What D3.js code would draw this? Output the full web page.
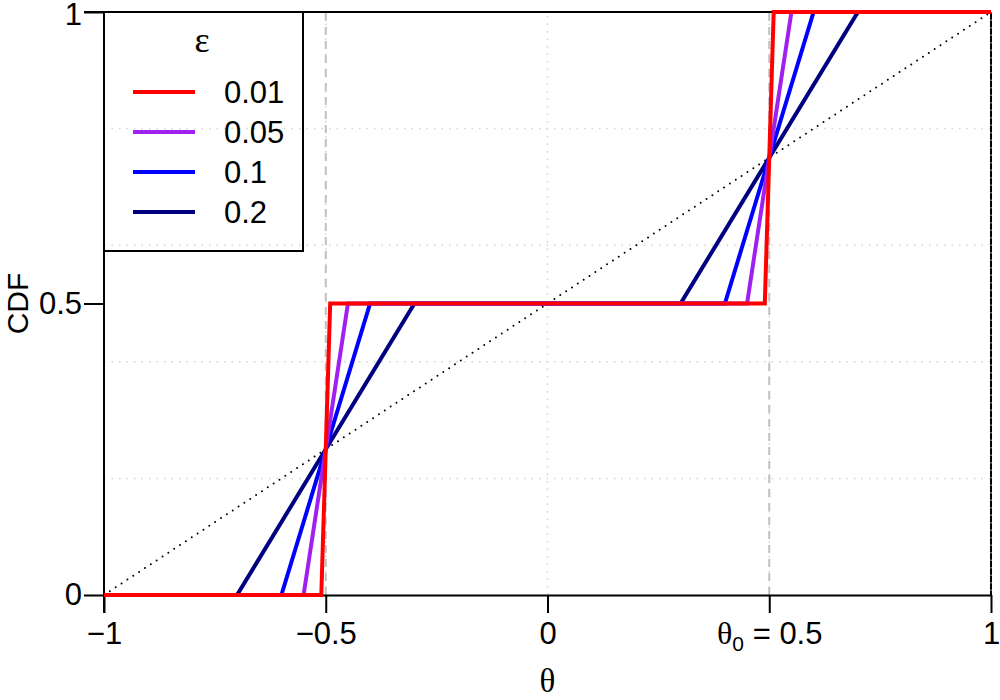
<!DOCTYPE html>
<html>
<head>
<meta charset="utf-8">
<script src="https://cdn.jsdelivr.net/npm/d3@7"></script>
<style>
    body { margin: 0; background: #fff; }
    text { font-family: "Liberation Sans", Arial, sans-serif; }
    .greek { font-family: "Liberation Serif", "DejaVu Serif", serif; }
</style>
</head>
<body>
<div id="chart"></div>
<script>
// series: epsilon values, colours and the breakpoints of each CDF
const epsilons = ["0.01", "0.05", "0.1", "0.2"];
const colors = ["#ff0000", "#a020f0", "#0000ff", "#000080"];
const cdfX = [
    [-1, -0.51, -0.49, 0.49, 0.51, 1],
    [-1, -0.55, -0.45, 0.45, 0.55, 1],
    [-1, -0.6, -0.4, 0.4, 0.6, 1],
    [-1, -0.7, -0.3, 0.3, 0.7, 1]
];
const cdfY = [0, 0, 0.5, 0.5, 1, 1];
const refX = [-1, 1];
const refY = [0, 1];
const xTicks = [-1, -0.5, 0, 0.5, 1];
const xTickLabels = ["\u22121", "\u22120.5", "0", "θ0 = 0.5", "1"];
const yTicks = [0, 0.5, 1];
const yTickLabels = ["0", "0.5", "1"];
const gridY = [0.2, 0.4, 0.6, 0.8, 1];
const gridX = [-0.5, 0, 0.5, 1];
const dashedX = [-0.5, 0.5];

const width = 1000, height = 700;
const margin = {top: 12, right: 9, bottom: 105, left: 104};

const svg = d3.select("#chart").append("svg")
    .attr("width", width)
    .attr("height", height);

const x = d3.scaleLinear().domain([-1, 1]).range([margin.left, width - margin.right]);
const y = d3.scaleLinear().domain([0, 1]).range([height - margin.bottom, margin.top]);

// dotted light grid
svg.append("g").selectAll("line")
    .data(gridY).enter().append("line")
    .attr("x1", x(-1)).attr("x2", x(1))
    .attr("y1", d => y(d)).attr("y2", d => y(d))
    .attr("stroke", "#d3d3d3").attr("stroke-width", 1.5)
    .attr("stroke-dasharray", "1.5,6");
svg.append("g").selectAll("line")
    .data(gridX).enter().append("line")
    .attr("x1", d => x(d)).attr("x2", d => x(d))
    .attr("y1", y(0)).attr("y2", y(1))
    .attr("stroke", "#d3d3d3").attr("stroke-width", 1.5)
    .attr("stroke-dasharray", "1.5,6");

// dashed reference lines at +-0.5
svg.append("g").selectAll("line")
    .data(dashedX).enter().append("line")
    .attr("x1", d => x(d)).attr("x2", d => x(d))
    .attr("y1", y(0)).attr("y2", y(1))
    .attr("stroke", "#c0c0c0").attr("stroke-width", 2)
    .attr("stroke-dasharray", "8,6");

// top and right frame lines
svg.append("line")
    .attr("x1", x(-1) - 20).attr("x2", x(1))
    .attr("y1", y(1)).attr("y2", y(1))
    .attr("stroke", "#000").attr("stroke-width", 2);
svg.append("line")
    .attr("x1", x(1)).attr("x2", x(1))
    .attr("y1", y(1)).attr("y2", y(0))
    .attr("stroke", "#000").attr("stroke-width", 2);
svg.append("line")
    .attr("x1", x(1)).attr("x2", x(1))
    .attr("y1", y(1)).attr("y2", y(0))
    .attr("stroke", "#d3d3d3").attr("stroke-width", 1)
    .attr("stroke-dasharray", "1.5,6");

// uniform reference (dotted diagonal)
const line = d3.line().x(d => x(d[0])).y(d => y(d[1]));
svg.append("path")
    .datum(refX.map((v, i) => [v, refY[i]]))
    .attr("d", line)
    .attr("fill", "none")
    .attr("stroke", "#000")
    .attr("stroke-width", 2)
    .attr("stroke-linecap", "round")
    .attr("stroke-dasharray", "0,7");

// axes
const xAxis = svg.append("g")
    .attr("transform", `translate(0, ${y(0)})`)
    .call(d3.axisBottom(x).tickValues(xTicks).tickSize(18).tickSizeOuter(0).tickPadding(9)
        .tickFormat((d, i) => xTickLabels[i]));
const yAxis = svg.append("g")
    .attr("transform", `translate(${x(-1)}, 0)`)
    .call(d3.axisLeft(y).tickValues(yTicks).tickSize(20).tickSizeOuter(0).tickPadding(2)
        .tickFormat((d, i) => yTickLabels[i]));

[xAxis, yAxis].forEach(g => {
    g.select(".domain").attr("stroke", "#000").attr("stroke-width", 2);
    g.selectAll(".tick line").attr("stroke", "#000").attr("stroke-width", 2);
    g.selectAll(".tick text")
        .attr("fill", "#000")
        .style("font-size", "31px")
        .style("font-family", "'Liberation Sans', Arial, sans-serif");
});
// the left axis line reaches the bottom tick length
yAxis.select(".domain").attr("d", `M0,${y(1)}V${y(0) + 18}`);
// keep the top "1" label inside the page
yAxis.selectAll(".tick text").filter((d, i) => i === 2).attr("dy", "0.4em");

// theta_0 label with subscript
xAxis.selectAll(".tick text").filter((d, i) => i === 3)
    .text(null)
    .call(t => {
        t.append("tspan").attr("class", "greek").style("font-size", "32px").text("θ");
        t.append("tspan").attr("dy", 7).style("font-size", "21px").text("0");
        t.append("tspan").attr("dy", -7).text(" = 0.5");
    });

// CDF curves, widest first so red is on top
const order = [3, 2, 1, 0];
svg.append("g").selectAll("path")
    .data(order).enter().append("path")
    .attr("d", i => line(cdfX[i].map((v, j) => [v, cdfY[j]])))
    .attr("fill", "none")
    .attr("stroke", i => colors[i])
    .attr("stroke-width", 4);

// axis titles
svg.append("text")
    .attr("class", "greek")
    .attr("x", x(0)).attr("y", 692)
    .attr("text-anchor", "middle")
    .style("font-size", "33px")
    .text("θ");
svg.append("text")
    .attr("transform", `translate(28, ${y(0.5)}) rotate(-90)`)
    .attr("text-anchor", "middle")
    .style("font-size", "30px")
    .text("CDF");

// legend
const legend = svg.append("g");
legend.append("rect")
    .attr("x", x(-1)).attr("y", y(1))
    .attr("width", 199).attr("height", 239)
    .attr("fill", "none").attr("stroke", "#000").attr("stroke-width", 2);
legend.append("text")
    .attr("class", "greek")
    .attr("x", 202).attr("y", 52)
    .attr("text-anchor", "middle")
    .style("font-size", "36px")
    .text("ε");
epsilons.forEach((e, i) => {
    const ly = 92 + i * 40;
    legend.append("line")
        .attr("x1", 133).attr("x2", 195)
        .attr("y1", ly).attr("y2", ly)
        .attr("stroke", colors[i]).attr("stroke-width", 4);
    legend.append("text")
        .attr("x", 224).attr("y", ly)
        .attr("dy", "0.36em")
        .style("font-size", "31px")
        .text(e);
});
</script>
</body>
</html>
